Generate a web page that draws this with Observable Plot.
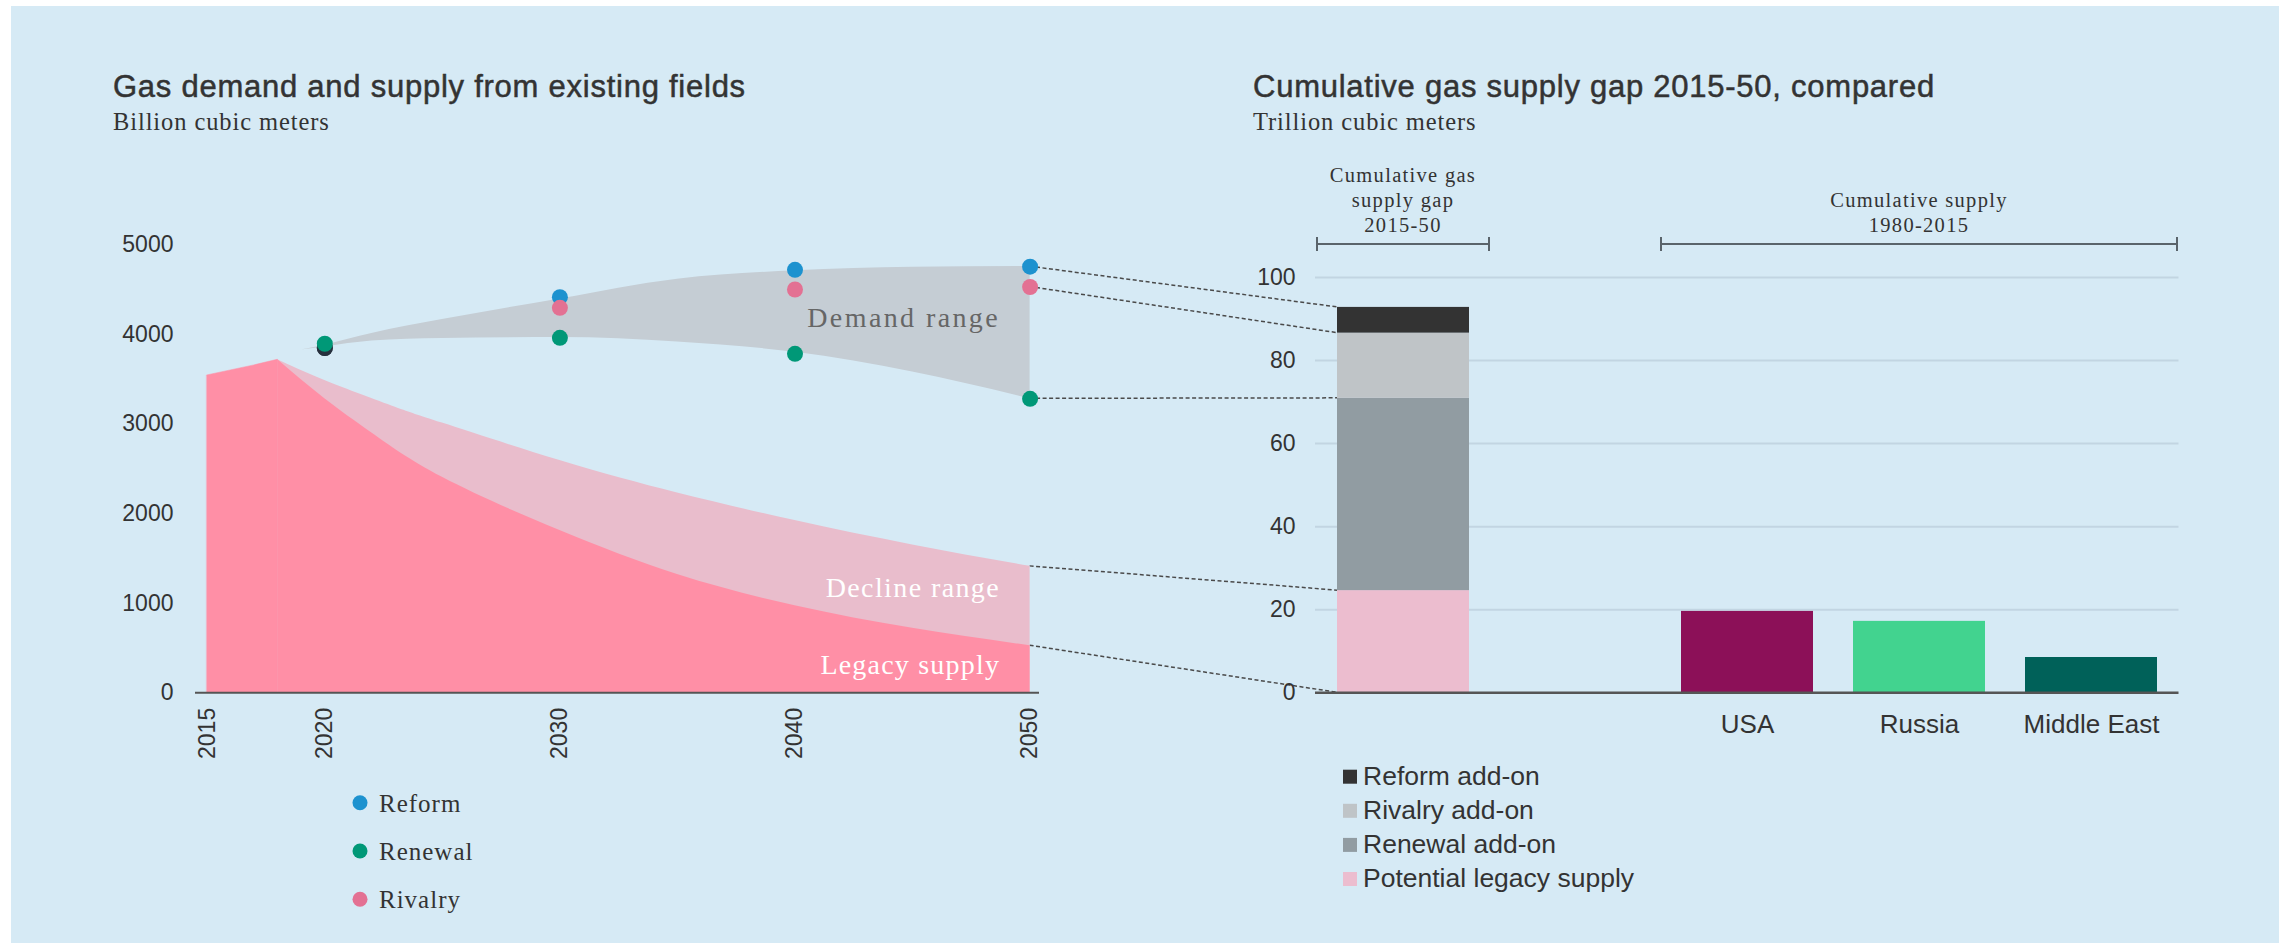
<!DOCTYPE html>
<html><head><meta charset="utf-8">
<script src="https://cdn.jsdelivr.net/npm/d3@7"></script>
<script src="https://cdn.jsdelivr.net/npm/@observablehq/plot@0.6"></script>
<style>
html,body{margin:0;padding:0;background:#fff;}
#root{position:relative;width:2279px;height:943px;overflow:hidden;background:#fff;}
#bg{position:absolute;left:11px;top:6px;right:0;bottom:0;background:#d6eaf5;}
.layer{position:absolute;top:0;}
.layer svg{max-width:none;}
</style></head><body>
<div id="root"><div id="bg"></div></div>
<script>
// ---------- Left chart data (billion cubic meters) ----------
const legacyYears  = [2015, 2017, 2018, 2020, 2022, 2025, 2030, 2035, 2040, 2045, 2050];
const legacySupply = [3542, 3654, 3717, 3282, 2900, 2405, 1810, 1320, 972, 720, 525];
const legacyPeakYear = 2018;
const declineYears = [2018, 2020, 2023, 2025, 2030, 2035, 2040, 2045, 2050];
const declineTop   = [3717, 3486, 3188, 3010, 2592, 2230, 1922, 1650, 1411];
const demandYears  = [2019, 2020, 2022, 2025, 2030, 2035, 2040, 2045, 2050];
const demandLow    = [3825, 3860, 3925, 3955, 3965, 3915, 3800, 3580, 3281];
const demandHigh   = [3825, 3880, 4010, 4165, 4395, 4615, 4710, 4750, 4758];
const scenarioYears = [2020, 2030, 2040, 2050];
const scenarioNames = ["Reform", "Rivalry", "Renewal"];
const reform  = [3848, 4415, 4721, 4756];
const rivalry = [3848, 4297, 4501, 4529];
const renewal = [3896, 3962, 3783, 3281];
const scenarioColors = ["#1d92cf", "#e37193", "#009877"];
const startColor = "#26303d";
const areaLabels = ["Demand range", "Decline range", "Legacy supply"];
const areaLabelValues = [4181, 1167, 305];
const xTicks = [2015, 2020, 2030, 2040, 2050];
const yTicksLeft = [0, 1000, 2000, 3000, 4000, 5000];

// ---------- Right chart data (trillion cubic meters) ----------
const barCategories = ["Gap", "", "USA", "Russia", "Middle East"];
const gapComponents = ["Potential legacy supply", "Renewal add-on", "Rivalry add-on", "Reform add-on"];
const gapValues = [24.6, 46.3, 15.7, 6.2];
const gapColors = ["#ecbdcf", "#919ca2", "#bfc4c7", "#333333"];
const regions = ["USA", "Russia", "Middle East"];
const regionSupply = [19.6, 17.2, 8.5];
const regionColors = ["#8c1058", "#42d38f", "#006159"];
const yTicksRight = [0, 20, 40, 60, 80, 100];

// ---------- Build rows ----------
const legacyRows = legacyYears.map((y, i) => ({year: y, value: legacySupply[i]}));
const legacyRise = legacyRows.filter(d => d.year <= legacyPeakYear);
const legacyFall = legacyRows.filter(d => d.year >= legacyPeakYear);
const declineRows = declineYears.map((y, i) => ({year: y, value: declineTop[i]}));
const demandRows = demandYears.map((y, i) => ({year: y, low: demandLow[i], high: demandHigh[i]}));
const scenarioSeries = {Reform: reform, Rivalry: rivalry, Renewal: renewal};
const scenarioRows = scenarioNames.flatMap((s, k) => scenarioYears.map((y, i) => ({
  year: y, value: scenarioSeries[s][i], scenario: s,
  color: (y === 2020 && s !== "Renewal") ? startColor : scenarioColors[k]
})));
const labelRows = areaLabels.map((t, i) => ({text: t, year: 2050, value: areaLabelValues[i]}));
const labelColors = ["#666666", "#ffffff", "#ffffff"];
const labelSpacing = [2.4, 1.4, 1.2];

const root = document.getElementById("root");
const SANS = "'Liberation Sans', Arial, sans-serif";
const SERIF = "'Liberation Serif', 'Times New Roman', serif";
const LEGACY = "#ff8fa6";

// ---------- Left plot ----------
const left = Plot.plot({
  width: 1060, height: 780,
  marginLeft: 195, marginRight: 21, marginTop: 244.3, marginBottom: 87.7,
  style: {background: "transparent", fontFamily: SANS, fontSize: "23px", color: "#333"},
  x: {domain: [2014.5, 2050.4], label: null},
  y: {domain: [0, 5000], label: null},
  color: {type: "identity"},
  marks: [
    Plot.areaY(declineRows, {x: "year", y1: 0, y2: "value", fill: "#e9bdcc", curve: "natural"}),
    Plot.areaY(legacyRise, {x: "year", y1: 0, y2: "value", fill: LEGACY, stroke: LEGACY, strokeWidth: 0.5, curve: "linear"}),
    Plot.areaY(legacyFall, {x: "year", y1: 0, y2: "value", fill: LEGACY, curve: "natural"}),
    Plot.areaY(demandRows, {x: "year", y1: "low", y2: "high", fill: "#c5cdd4", curve: "monotone-x"}),
    Plot.ruleY([0], {stroke: "#555", strokeWidth: 2}),
    Plot.dot(scenarioRows, {x: "year", y: "value", r: 8, fill: "color", stroke: null}),
    Plot.text(labelRows, {x: "year", y: "value", text: "text", textAnchor: "end", dx: -30,
      fill: (d, i) => labelColors[i], fontFamily: SERIF, fontSize: 28}),
    Plot.axisY({ticks: yTicksLeft, tickSize: 0, tickPadding: 22, tickFormat: "d", label: null}),
    Plot.axisX({ticks: xTicks, tickSize: 0, tickPadding: 15, tickFormat: "d", tickRotate: -90, label: null})
  ]
});
// letter spacing for the serif area labels
d3.select(left).selectAll("g[aria-label='text'] text").each(function(d, i){
  d3.select(this).attr("letter-spacing", labelSpacing[i] + "px");
});
const leftDiv = document.createElement("div");
leftDiv.className = "layer"; leftDiv.style.left = "0px";
leftDiv.appendChild(left);

// ---------- Right plot ----------
const rightRows = [
  ...gapComponents.map((s, i) => ({cat: "Gap", series: s, value: gapValues[i]})),
  ...regions.map((r, i) => ({cat: r, series: r, value: regionSupply[i]}))
];
const RIGHT_LEFT = 1200;
const right = Plot.plot({
  width: 1079, height: 752,
  marginLeft: 115, marginRight: 100.5, marginTop: 277, marginBottom: 59.7,
  style: {background: "transparent", fontFamily: SANS, fontSize: "23px", color: "#333"},
  x: {domain: barCategories, paddingInner: 0.23, paddingOuter: 0.115, label: null},
  y: {domain: [0, 100], label: null},
  color: {domain: [...gapComponents, ...regions], range: [...gapColors, ...regionColors]},
  marks: [
    Plot.ruleY(yTicksRight.slice(1), {stroke: "#c2d5e2", strokeWidth: 2}),
    Plot.barY(rightRows, {x: "cat", y: "value", fill: "series"}),
    Plot.ruleY([0], {stroke: "#555", strokeWidth: 2.5}),
    Plot.axisY({ticks: yTicksRight, tickSize: 0, tickPadding: 20, label: null}),
    Plot.axisX({tickSize: 0, tickPadding: 22, fontSize: 26, tickFormat: d => d === "Gap" ? "" : d, label: null})
  ]
});
const rightDiv = document.createElement("div");
rightDiv.className = "layer"; rightDiv.style.left = RIGHT_LEFT + "px";
rightDiv.appendChild(right);

// ---------- Overlay (connectors, titles, brackets, legends) ----------
const W = 2279, H = 943;
const ov = d3.create("svg").attr("width", W).attr("height", H)
  .style("position", "absolute").style("left", "0px").style("top", "0px");

const lx = left.scale("x"), ly = left.scale("y");
const rx = right.scale("x"), ry = right.scale("y");
const barLeft = RIGHT_LEFT + rx.apply("Gap");
const cum = d3.cumsum(gapValues);
const connectors = [
  [reform[3], cum[3]],
  [rivalry[3], cum[2]],
  [renewal[3], cum[1]],
  [declineTop[declineTop.length - 1], cum[0]],
  [legacySupply[legacySupply.length - 1], 0]
];
ov.append("g").selectAll("line").data(connectors).join("line")
  .attr("x1", lx.apply(2050)).attr("y1", d => ly.apply(d[0]))
  .attr("x2", barLeft).attr("y2", d => ry.apply(d[1]))
  .attr("stroke", "#4a4a4a").attr("stroke-width", 1.5).attr("stroke-dasharray", "4,2.5");

// titles
const titles = [
  {x: 113, t: "Gas demand and supply from existing fields", s: "Billion cubic meters"},
  {x: 1253, t: "Cumulative gas supply gap 2015-50, compared", s: "Trillion cubic meters"}
];
for (const tt of titles) {
  ov.append("text").attr("x", tt.x).attr("y", 96.7).text(tt.t)
    .attr("font-family", SANS).attr("font-size", 31).attr("letter-spacing", "0.75px")
    .attr("fill", "#333").attr("stroke", "#333").attr("stroke-width", 0.5);
  ov.append("text").attr("x", tt.x).attr("y", 130).text(tt.s)
    .attr("font-family", SERIF).attr("font-size", 24.5).attr("letter-spacing", "0.9px").attr("fill", "#333");
}

// brackets over the right chart
const step = typeof rx.step === "function" ? rx.step() : rx.step;
const bw = typeof rx.bandwidth === "function" ? rx.bandwidth() : rx.bandwidth;
const stepStart = c => RIGHT_LEFT + rx.apply(c) - (step - bw) / 2;
const stepEnd = c => RIGHT_LEFT + rx.apply(c) + bw + (step - bw) / 2;
const by = ry.apply(100) - 33;
const brackets = [
  {x1: stepStart("Gap"), x2: stepEnd("Gap"), lines: ["Cumulative gas", "supply gap", "2015-50"]},
  {x1: stepStart("USA"), x2: stepEnd("Middle East"), lines: ["Cumulative supply", "1980-2015"]}
];
for (const b of brackets) {
  const g = ov.append("g").attr("stroke", "#5a646b").attr("stroke-width", 2);
  g.append("line").attr("x1", b.x1).attr("x2", b.x2).attr("y1", by).attr("y2", by);
  g.append("line").attr("x1", b.x1).attr("x2", b.x1).attr("y1", by - 7).attr("y2", by + 7);
  g.append("line").attr("x1", b.x2).attr("x2", b.x2).attr("y1", by - 7).attr("y2", by + 7);
  const n = b.lines.length;
  b.lines.forEach((ln, i) => {
    ov.append("text").attr("x", (b.x1 + b.x2) / 2).attr("y", by - 12.3 - (n - 1 - i) * 25)
      .attr("text-anchor", "middle").attr("font-family", SERIF).attr("font-size", 20.5)
      .attr("letter-spacing", "1.3px").attr("fill", "#333").text(ln);
  });
}

// left legend (scenarios)
const legOrder = ["Reform", "Renewal", "Rivalry"];
legOrder.forEach((s, i) => {
  const cy = 802.7 + i * 48.3;
  ov.append("circle").attr("cx", 360).attr("cy", cy).attr("r", 7.5)
    .attr("fill", scenarioColors[scenarioNames.indexOf(s)]);
  ov.append("text").attr("x", 379).attr("y", cy + 9).text(s)
    .attr("font-family", SERIF).attr("font-size", 25).attr("letter-spacing", "1px").attr("fill", "#333");
});

// right legend (gap components), top to bottom
const legRight = gapComponents.map((s, i) => ({s, c: gapColors[i]})).reverse();
legRight.forEach((d, i) => {
  const cy = 776.7 + i * 34.1;
  ov.append("rect").attr("x", 1343).attr("y", cy - 7).attr("width", 14).attr("height", 14).attr("fill", d.c);
  ov.append("text").attr("x", 1363).attr("y", cy + 8.3).text(d.s)
    .attr("font-family", SANS).attr("font-size", 26.5).attr("fill", "#333");
});

root.appendChild(ov.node());
root.appendChild(leftDiv);
root.appendChild(rightDiv);
</script>
</body></html>
